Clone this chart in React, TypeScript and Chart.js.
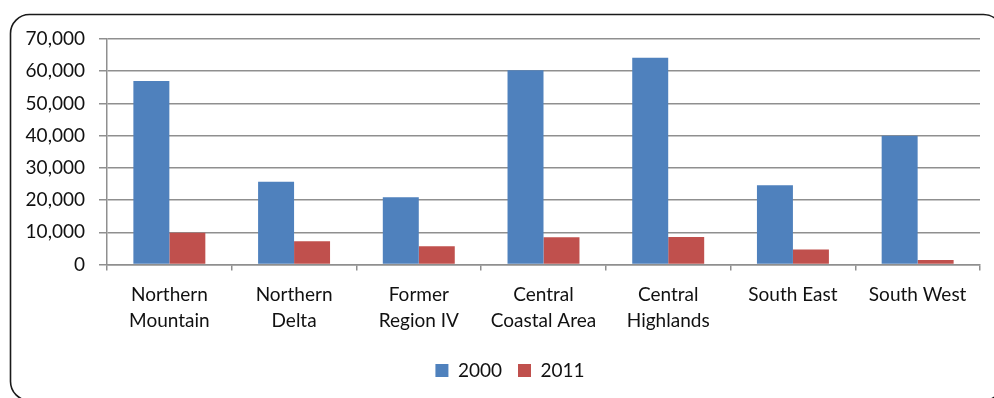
import React, { useEffect, useRef } from "react";
import { Chart, registerables } from "chart.js";

Chart.register(...registerables);

// Regions (two-line labels are given as arrays)
const regions: (string | string[])[] = [
  ["Northern", "Mountain"],
  ["Northern", "Delta"],
  ["Former", "Region IV"],
  ["Central", "Coastal Area"],
  ["Central", "Highlands"],
  "South East",
  "South West",
];

const values2000 = [57000, 25700, 20900, 60300, 64200, 24600, 40000];
const values2011 = [9900, 7200, 5700, 8450, 8550, 4650, 1450];

const seriesNames = ["2000", "2011"];

const FONT = "Lato, 'Open Sans', sans-serif";
const TEXT = "#111111";
const GRID = "#8f8f8f";

// Rounded frame around the whole chart
const framePlugin = {
  id: "frame",
  beforeDraw(chart: Chart) {
    const { ctx } = chart;
    ctx.save();
    ctx.fillStyle = "#ffffff";
    ctx.fillRect(0, 0, chart.width, chart.height);
    ctx.beginPath();
    ctx.roundRect(10.5, 14.5, 992, 386, 19);
    ctx.lineWidth = 1.6;
    ctx.strokeStyle = "#1a1a1a";
    ctx.stroke();
    ctx.restore();
  },
};

// Nudge the legend a little to the right of the canvas centre
const legendShiftPlugin = {
  id: "legendShift",
  afterLayout(chart: any) {
    const lg = chart.legend;
    if (lg) {
      lg.left += 20;
      lg.right += 20;
    }
  },
};

export default function App() {
  const canvasRef = useRef<HTMLCanvasElement | null>(null);

  useEffect(() => {
    const canvas = canvasRef.current;
    if (!canvas) return;
    const chart = new Chart(canvas, {
      type: "bar",
      data: {
        labels: regions,
        datasets: [
          {
            label: seriesNames[0],
            data: values2000,
            backgroundColor: "#4F81BD",
            borderWidth: 0,
          },
          {
            label: seriesNames[1],
            data: values2011,
            backgroundColor: "#C0504D",
            borderWidth: 0,
          },
        ],
      },
      options: {
        responsive: false,
        animation: false,
        layout: { padding: { left: 0, right: 14, top: 39, bottom: 8 } },
        plugins: {
          tooltip: { enabled: false },
          legend: {
            position: "bottom",
            labels: {
              boxWidth: 13,
              boxHeight: 13,
              padding: 16,
              color: TEXT,
              font: { family: FONT, size: 19 },
            },
          },
        },
        datasets: {
          bar: { categoryPercentage: 0.577, barPercentage: 1 },
        },
        scales: {
          x: {
            offset: true,
            grid: {
              offset: true,
              drawOnChartArea: false,
              drawTicks: true,
              tickLength: 6,
              color: GRID,
              lineWidth: 1.5,
            },
            border: { color: GRID, width: 1.5 },
            ticks: {
              color: TEXT,
              padding: 11,
              maxRotation: 0,
              autoSkip: false,
              font: { family: FONT, size: 19, lineHeight: 1.38 },
            },
          },
          y: {
            min: 0,
            max: 70000,
            afterFit(scale: any) {
              scale.width = 107;
            },
            grid: {
              color: GRID,
              lineWidth: 1.5,
              tickLength: 8,
            },
            border: { color: GRID, width: 1.5 },
            ticks: {
              stepSize: 10000,
              color: TEXT,
              padding: 14,
              font: { family: FONT, size: 19 },
              callback: (v: any) => Number(v).toLocaleString("en-US"),
            },
          },
        },
      },
      plugins: [framePlugin, legendShiftPlugin],
    });
    return () => chart.destroy();
  }, []);

  return (
    <div style={{ position: "absolute", left: 0, top: 0, width: 994, height: 398 }}>
      <canvas ref={canvasRef} width={994} height={398} />
    </div>
  );
}
